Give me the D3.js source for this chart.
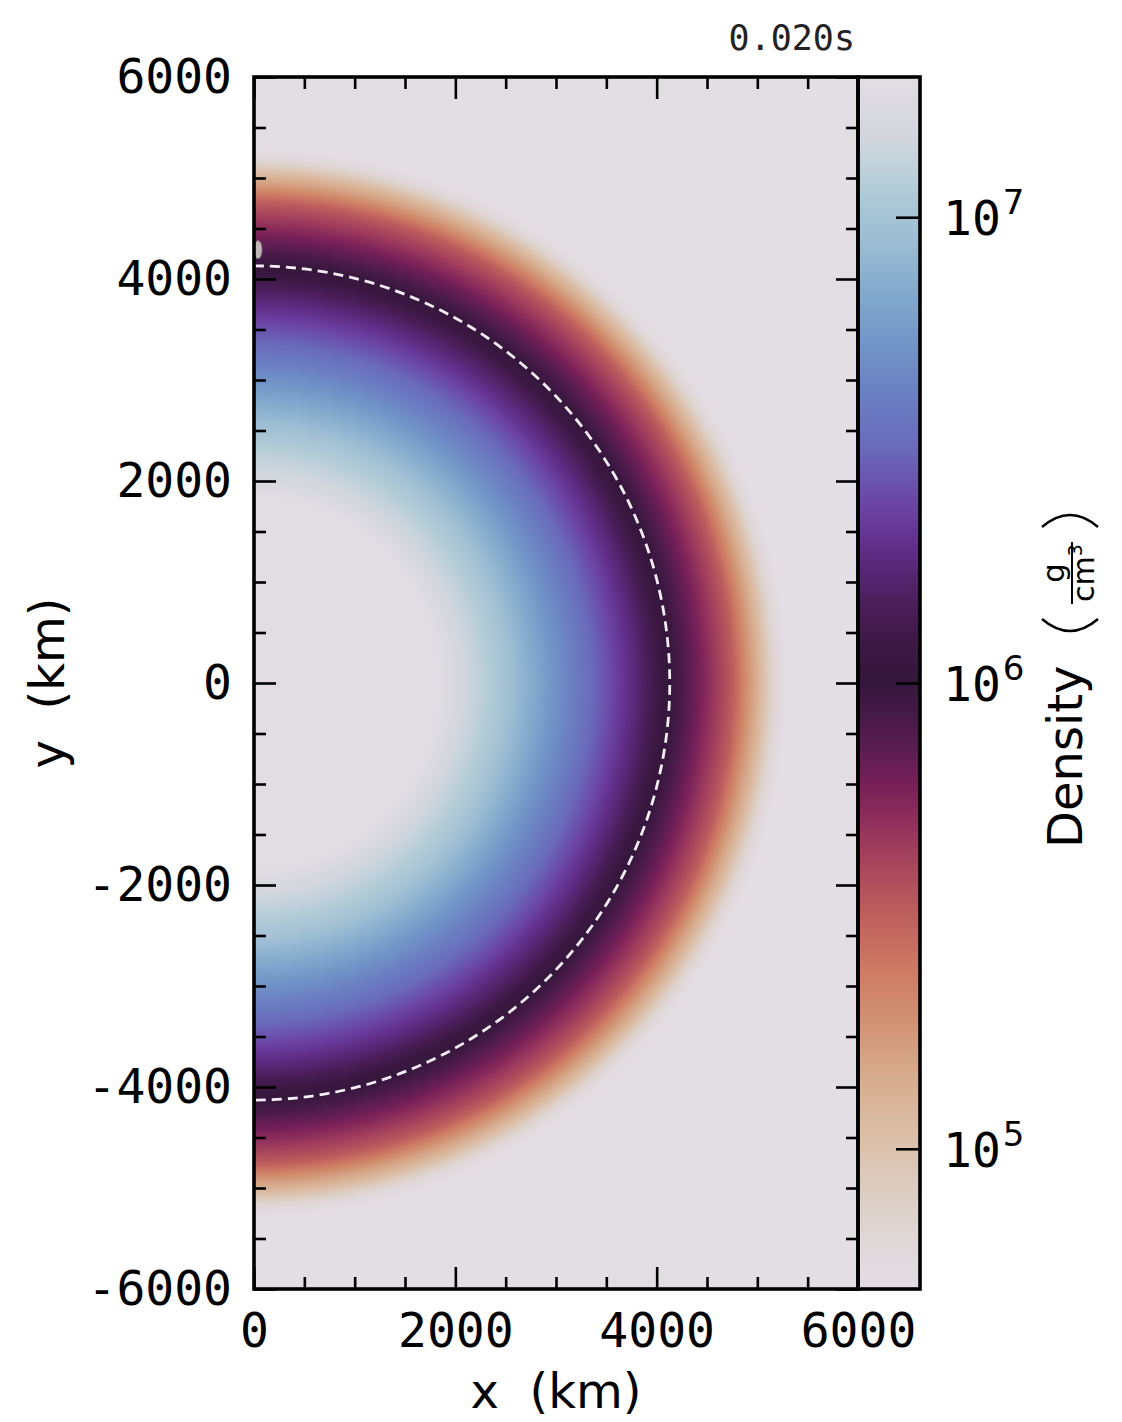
<!DOCTYPE html>
<html>
<head>
<meta charset="utf-8">
<script src="https://cdn.jsdelivr.net/npm/d3@7"></script>
<style>
  html, body { margin: 0; padding: 0; background: #ffffff; }
  svg { display: block; }
  text { white-space: pre; }
</style>
</head>
<body>
<svg id="chart" width="1122" height="1422"></svg>
<script>
// ---- data -------------------------------------------------------------
// Radial density profile (spherically symmetric star) at t = 0.020 s
const radiusKm    = [0,     1500,  1800,  2000,  2480,  2840,  2980,  3340,  3570,  3830,  4030,  4130,  4230,  4430,  4630,  4760,  4900,  5030,  5150,  5280,  6000,  9000];
const densityGcm3 = [3.5e7, 2.6e7, 2.1e7, 1.6e7, 1.0e7, 6.3e6, 5.2e6, 3.3e6, 2.4e6, 1.66e6, 1.17e6, 1.0e6, 8.5e5, 6.0e5, 4.2e5, 3.2e5, 1.9e5, 1.2e5, 7.1e4, 5.0e4, 4.5e4, 4.5e4];

// Dashed contour radius (km)
const contourRadiusKm = [4130];

// Small numerical artifact sitting on the symmetry axis
const artifactKm = [{ x: 40, y: 4290, rx: 40, ry: 90 }];

// Axis extents and ticks
const xDomain = [0, 6000];
const yDomain = [-6000, 6000];
const xMajor = [0, 2000, 4000, 6000];
const yMajor = [-6000, -4000, -2000, 0, 2000, 4000, 6000];
const xMinor = d3.range(0, 6001, 500).filter(v => v % 2000 !== 0);
const yMinor = d3.range(-6000, 6001, 500).filter(v => v % 2000 !== 0);

// Colour bar (log scale)
const densityRange = [5.0e4, 2.0e7];
const cbarTicks = [1e5, 1e6, 1e7];
const cbarExponents = ["5", "6", "7"];
const timeLabel = "0.020s";

// Twilight (reversed) colour map, position 0 = low density, 1 = high density
const cmapPos = [0.000, 0.035, 0.063, 0.090, 0.117, 0.145, 0.172, 0.200, 0.228, 0.255, 0.282, 0.310, 0.337, 0.365, 0.393, 0.420, 0.447, 0.475, 0.502, 0.533, 0.561, 0.588, 0.616, 0.644, 0.671, 0.698, 0.739, 0.781, 0.822, 0.863, 0.904, 0.932, 0.950, 1.000];
const cmapHex = ["#e3dde4", "#e0d8da", "#ddd2cc", "#dccbbe", "#dcc1ad", "#dab89f", "#d7ad8f", "#d49e80", "#d08e6f", "#cf7f66", "#c86f61", "#bd5e5d", "#b04d5c", "#a03d5d", "#8a2b5a", "#731f57", "#5a1d52", "#451a47", "#34163b", "#3d1945", "#4a1d58", "#562570", "#63308d", "#6b43a3", "#6a58b0", "#6a6cbc", "#6b80c2", "#7296c8", "#83aacd", "#9bbcd3", "#b0cad6", "#c5d3dc", "#d3d6dd", "#e2dde3"];

// ---- layout -----------------------------------------------------------
const plot = { left: 254, right: 858, top: 77, bottom: 1289 };
const cbar = { left: 858, right: 920 };

const svg = d3.select("#chart");
const monoFont = "'DejaVu Sans Mono', 'Liberation Mono', monospace";
const sansFont = "'DejaVu Sans', 'Noto Sans', sans-serif";
const plainInt = d => String(d);   // ASCII hyphen for negatives

const x = d3.scaleLinear().domain(xDomain).range([plot.left, plot.right]);
const y = d3.scaleLinear().domain(yDomain).range([plot.bottom, plot.top]);

// radius -> log10(density), piecewise linear through the profile
const profile = d3.scaleLinear()
  .domain(radiusKm)
  .range(densityGcm3.map(Math.log10))
  .clamp(true);

// density -> [0,1] -> colour
const norm = d3.scaleLog().domain(densityRange).range([0, 1]).clamp(true);
const cmap = d3.scaleLinear().domain(cmapPos).range(cmapHex).interpolate(d3.interpolateRgb).clamp(true);

// ---- density field ----------------------------------------------------
const W = plot.right - plot.left;
const H = plot.bottom - plot.top;
const canvas = document.createElement("canvas");
canvas.width = W; canvas.height = H;
const ctx = canvas.getContext("2d");
const img = ctx.createImageData(W, H);
for (let j = 0; j < H; j++) {
  const yk = y.invert(plot.top + j + 0.5);
  for (let i = 0; i < W; i++) {
    const xk = x.invert(plot.left + i + 0.5);
    const r = Math.hypot(xk, yk);
    const rho = Math.pow(10, profile(r));
    const c = d3.rgb(cmap(norm(rho)));
    const k = 4 * (j * W + i);
    img.data[k] = c.r; img.data[k + 1] = c.g; img.data[k + 2] = c.b; img.data[k + 3] = 255;
  }
}
ctx.putImageData(img, 0, 0);

svg.append("defs").append("clipPath").attr("id", "plotClip")
  .append("rect").attr("x", plot.left).attr("y", plot.top).attr("width", W).attr("height", H);

const field = svg.append("g").attr("clip-path", "url(#plotClip)");
field.append("image")
  .attr("x", plot.left).attr("y", plot.top)
  .attr("width", W).attr("height", H)
  .attr("preserveAspectRatio", "none")
  .attr("href", canvas.toDataURL());

field.selectAll("ellipse.artifact").data(artifactKm).join("ellipse")
  .attr("class", "artifact")
  .attr("cx", d => x(d.x)).attr("cy", d => y(d.y))
  .attr("rx", d => x(d.rx) - x(0)).attr("ry", d => y(0) - y(d.ry))
  .attr("fill", "#cfc8c4").attr("stroke", "#857f7b").attr("stroke-width", 0.9).attr("opacity", 0.9);

// dashed contour (right half circle)
field.selectAll("path.contour").data(contourRadiusKm).join("path")
  .attr("class", "contour")
  .attr("d", r => {
    const rx = x(r) - x(0), ry = y(0) - y(r);
    return `M${x(0)},${y(r)} A${rx},${ry} 0 0 1 ${x(0)},${y(-r)}`;
  })
  .attr("fill", "none").attr("stroke", "#f6eef6").attr("stroke-width", 2.8)
  .attr("stroke-dasharray", "10 6");

// ---- colour bar -------------------------------------------------------
const cy = d3.scaleLog().domain(densityRange).range([plot.bottom, plot.top]);
const grad = svg.select("defs").append("linearGradient").attr("id", "cbarGrad")
  .attr("x1", 0).attr("y1", 1).attr("x2", 0).attr("y2", 0);
grad.selectAll("stop").data(cmapPos).join("stop")
  .attr("offset", d => d).attr("stop-color", (d, i) => cmapHex[i]);
svg.append("rect")
  .attr("x", cbar.left).attr("y", plot.top)
  .attr("width", cbar.right - cbar.left).attr("height", H)
  .attr("fill", "url(#cbarGrad)");

// ---- ticks ------------------------------------------------------------
function styleAxis(g) {
  g.select(".domain").remove();
  g.selectAll(".tick line").attr("stroke", "#000").attr("stroke-width", 2.6);
  g.selectAll(".tick text").attr("font-family", monoFont).attr("font-size", 48).attr("fill", "#000");
}
const major = 22, minor = 12;

svg.append("g").attr("transform", `translate(0,${plot.bottom})`)
  .call(d3.axisBottom(x).tickValues(xMajor).tickSize(-major).tickPadding(24).tickFormat(plainInt))
  .call(styleAxis);
svg.append("g").attr("transform", `translate(0,${plot.bottom})`)
  .call(d3.axisBottom(x).tickValues(xMinor).tickSize(-minor).tickFormat(""))
  .call(styleAxis);
svg.append("g").attr("transform", `translate(0,${plot.top})`)
  .call(d3.axisTop(x).tickValues(xMajor).tickSize(-major).tickFormat(""))
  .call(styleAxis);
svg.append("g").attr("transform", `translate(0,${plot.top})`)
  .call(d3.axisTop(x).tickValues(xMinor).tickSize(-minor).tickFormat(""))
  .call(styleAxis);

svg.append("g").attr("transform", `translate(${plot.left},0)`)
  .call(d3.axisLeft(y).tickValues(yMajor).tickSize(-major).tickPadding(22).tickFormat(plainInt))
  .call(styleAxis);
svg.append("g").attr("transform", `translate(${plot.left},0)`)
  .call(d3.axisLeft(y).tickValues(yMinor).tickSize(-minor).tickFormat(""))
  .call(styleAxis);
svg.append("g").attr("transform", `translate(${plot.right},0)`)
  .call(d3.axisRight(y).tickValues(yMajor).tickSize(-major).tickFormat(""))
  .call(styleAxis);
svg.append("g").attr("transform", `translate(${plot.right},0)`)
  .call(d3.axisRight(y).tickValues(yMinor).tickSize(-minor).tickFormat(""))
  .call(styleAxis);

// colour bar ticks and labels (10^n)
svg.append("g").attr("transform", `translate(${cbar.right},0)`)
  .call(d3.axisRight(cy).tickValues(cbarTicks).tickSize(-24).tickFormat(""))
  .call(styleAxis);

const cbLabels = svg.append("g").selectAll("text").data(cbarTicks).join("text")
  .attr("x", cbar.right + 23).attr("y", d => cy(d) + 18)
  .attr("font-family", monoFont).attr("font-size", 48).attr("fill", "#000");
cbLabels.append("tspan").text("10");
cbLabels.append("tspan").attr("dy", -21).attr("dx", 2)
  .attr("font-family", sansFont).attr("font-size", 34)
  .text((d, i) => cbarExponents[i]);

// ---- frames -----------------------------------------------------------
svg.append("rect").attr("x", plot.left).attr("y", plot.top).attr("width", W).attr("height", H)
  .attr("fill", "none").attr("stroke", "#000").attr("stroke-width", 3.6);
svg.append("rect").attr("x", cbar.left).attr("y", plot.top).attr("width", cbar.right - cbar.left).attr("height", H)
  .attr("fill", "none").attr("stroke", "#000").attr("stroke-width", 3.6);

// ---- labels -----------------------------------------------------------
svg.append("text")
  .attr("x", (plot.left + plot.right) / 2).attr("y", 1408)
  .attr("text-anchor", "middle")
  .attr("font-family", sansFont).attr("font-size", 48).attr("fill", "#000")
  .text("x  (km)");

svg.append("text")
  .attr("transform", `translate(64,${(plot.top + plot.bottom) / 2}) rotate(-90)`)
  .attr("text-anchor", "middle")
  .attr("font-family", sansFont).attr("font-size", 48).attr("fill", "#000")
  .text("y  (km)");

svg.append("text")
  .attr("x", 855).attr("y", 50)
  .attr("text-anchor", "end")
  .attr("font-family", monoFont).attr("font-size", 35).attr("fill", "#222")
  .text(timeLabel);

// colour bar label: Density (g / cm^3)
const cl = svg.append("g").attr("transform", "translate(1068,683) rotate(-90)");
cl.append("text")
  .attr("x", -165).attr("y", 14)
  .attr("font-family", sansFont).attr("font-size", 48).attr("fill", "#000")
  .text("Density");
cl.append("text")
  .attr("x", 110).attr("y", -4).attr("text-anchor", "middle")
  .attr("font-family", sansFont).attr("font-size", 31).attr("fill", "#000")
  .text("g");
cl.append("line")
  .attr("x1", 79).attr("x2", 141).attr("y1", 4).attr("y2", 4)
  .attr("stroke", "#000").attr("stroke-width", 2);
const cm = cl.append("text")
  .attr("x", 110).attr("y", 26).attr("text-anchor", "middle")
  .attr("font-family", sansFont).attr("font-size", 30).attr("fill", "#000");
cm.append("tspan").text("cm");
cm.append("tspan").attr("dy", -12).attr("font-size", 19).text("3");
const paren = (x0, bulge) => {
  const p = d3.path();
  p.moveTo(x0, -26);
  p.quadraticCurveTo(x0 + bulge, 2, x0, 30);
  return p.toString();
};
cl.append("path").attr("d", paren(64, -24)).attr("fill", "none").attr("stroke", "#000").attr("stroke-width", 2.4);
cl.append("path").attr("d", paren(156, 24)).attr("fill", "none").attr("stroke", "#000").attr("stroke-width", 2.4);
</script>
</body>
</html>
